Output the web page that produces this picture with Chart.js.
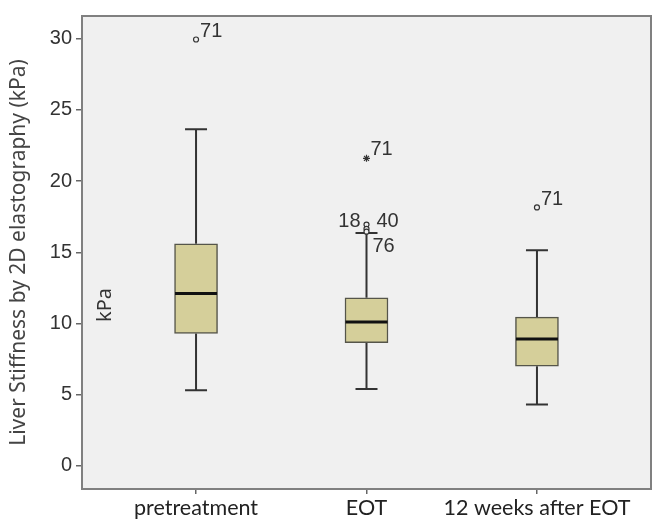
<!DOCTYPE html>
<html>
<head>
<meta charset="utf-8">
<script src="https://cdn.jsdelivr.net/npm/chart.js@4.4.1/dist/chart.umd.min.js"></script>
<style>
  html, body { margin: 0; padding: 0; background: #fff; }
  #wrap { width: 665px; height: 522px; }
</style>
</head>
<body>
<div id="wrap"><canvas id="box-chart"></canvas></div>
<script>
// categories and box summary values (kPa)
const categories = ['pretreatment', 'EOT', '12 weeks after EOT'];
const whiskerLow = [5.3, 5.4, 4.3];
const q1 = [9.3, 8.65, 7.0];
const median = [12.1, 10.1, 8.9];
const q3 = [15.6, 11.8, 10.45];
const whiskerHigh = [23.65, 16.35, 15.15];

// outliers: which group, value, case label, marker
const outlierGroup = [1, 2, 2, 2, 2, 3];
const outlierValue = [29.95, 21.6, 16.95, 16.65, 16.45, 18.15];
const outlierLabel = ['71', '71', '18', '40', '76', '71'];
const outlierStyle = ['circle', 'star', 'circle', 'circle', 'circle', 'circle'];

const yTicks = [0, 5, 10, 15, 20, 25, 30];

// where each case label sits next to its point (dx, dy, align)
const labelPlace = [
    [4, -2, 'left'],
    [4, -3, 'left'],
    [-6, 2, 'right'],
    [10, -2, 'left'],
    [6, 20, 'left'],
    [4, -2, 'left']
];

let ctx = document.getElementById('box-chart').getContext('2d');

// background + frame of the plot area
const frame = {
    id: 'frame',
    beforeDraw(chart) {
        const a = chart.chartArea, c = chart.ctx;
        c.save();
        c.fillStyle = '#f0f0f0';
        c.fillRect(a.left, a.top, a.right - a.left, a.bottom - a.top);
        c.restore();
    },
    afterDraw(chart) {
        const a = chart.chartArea, c = chart.ctx;
        c.save();
        c.strokeStyle = '#808080';
        c.lineWidth = 2;
        c.strokeRect(a.left, a.top, a.right - a.left, a.bottom - a.top);
        // kPa note inside plot
        c.translate(a.left + 23, 305);
        c.rotate(-Math.PI / 2);
        c.fillStyle = '#333';
        c.font = '20px "Noto Sans", sans-serif';
        c.textAlign = 'center';
        c.textBaseline = 'middle';
        c.fillText('kPa', 0, 0);
        c.restore();
    }
};

// whiskers behind the boxes, median on top, case labels
const boxParts = {
    id: 'boxParts',
    beforeDatasetsDraw(chart) {
        const x = chart.scales.x, y = chart.scales.y, c = chart.ctx;
        c.save();
        c.strokeStyle = '#333';
        c.lineWidth = 2;
        categories.forEach((cat, i) => {
            const px = x.getPixelForValue(i + 1);
            c.beginPath();
            c.moveTo(px, y.getPixelForValue(whiskerLow[i]));
            c.lineTo(px, y.getPixelForValue(q1[i]));
            c.moveTo(px, y.getPixelForValue(q3[i]));
            c.lineTo(px, y.getPixelForValue(whiskerHigh[i]));
            [whiskerLow[i], whiskerHigh[i]].forEach(v => {
                const py = y.getPixelForValue(v);
                c.moveTo(px - 11, py);
                c.lineTo(px + 11, py);
            });
            c.stroke();
        });
        c.restore();
    },
    afterDatasetsDraw(chart) {
        const x = chart.scales.x, y = chart.scales.y, c = chart.ctx;
        c.save();
        c.strokeStyle = '#111';
        c.lineWidth = 3;
        categories.forEach((cat, i) => {
            const px = x.getPixelForValue(i + 1);
            const py = y.getPixelForValue(median[i]);
            c.beginPath();
            c.moveTo(px - 21, py);
            c.lineTo(px + 21, py);
            c.stroke();
        });
        c.fillStyle = '#333';
        c.font = '20px "Liberation Sans", Arial, sans-serif';
        c.textBaseline = 'alphabetic';
        outlierValue.forEach((v, i) => {
            const p = labelPlace[i];
            c.textAlign = p[2];
            c.fillText(outlierLabel[i], x.getPixelForValue(outlierGroup[i]) + p[0], y.getPixelForValue(v) + p[1]);
        });
        c.restore();
    }
};

new Chart(ctx,
{
    data:
    {
        datasets:
        [{
            type: 'bar',
            data: categories.map((cat, i) => ({ x: i + 1, y: [q1[i], q3[i]] })),
            backgroundColor: '#d5cf9a',
            borderColor: '#55554a',
            borderWidth: 1.5,
            borderSkipped: false,
            barThickness: 43,
            order: 2
        },
        {
            type: 'scatter',
            data: outlierValue.map((v, i) => ({ x: outlierGroup[i], y: v })),
            pointStyle: outlierStyle,
            pointRadius: outlierStyle.map(s => s === 'star' ? 3.5 : 2.5),
            backgroundColor: '#f0f0f0',
            borderColor: '#333',
            borderWidth: 1.2,
            order: 1
        }]
    },
    options:
    {
        responsive: true,
        maintainAspectRatio: false,
        animation: false,
        layout: { padding: { top: 15, right: 14, left: 0, bottom: 0 } },
        plugins:
        {
            legend: { display: false },
            tooltip: { enabled: false }
        },
        scales:
        {
            x:
            {
                type: 'linear',
                offset: false,
                min: 0.331,
                max: 3.669,
                afterBuildTicks: s => { s.ticks = categories.map((c, i) => ({ value: i + 1 })); },
                afterFit: s => { s.height = 33; },
                ticks:
                {
                    callback: v => categories[v - 1],
                    color: '#222',
                    font: { size: 21.5, family: 'Lato, "Noto Sans", sans-serif' },
                    padding: 1,
                    maxRotation: 0
                },
                grid: { offset: false, drawOnChartArea: false, drawTicks: true, tickLength: 5, color: '#666', lineWidth: 1.5 },
                border: { display: false }
            },
            y:
            {
                min: -1.63,
                max: 31.6,
                afterBuildTicks: s => { s.ticks = yTicks.map(v => ({ value: v })); },
                afterFit: s => { s.width = 82; },
                ticks:
                {
                    color: '#333',
                    font: { size: 20, family: '"Liberation Sans", Arial, sans-serif' },
                    padding: 4
                },
                grid: { drawOnChartArea: false, drawTicks: true, tickLength: 6, color: '#666', lineWidth: 1.5 },
                border: { display: false },
                title:
                {
                    display: true,
                    text: 'Liver Stiffness by 2D elastography (kPa)',
                    color: '#444',
                    font: { size: 21, family: '"Noto Sans", sans-serif' },
                    padding: { top: 6, bottom: 0 }
                }
            }
        }
    },
    plugins: [frame, boxParts]
});
</script>
</body>
</html>
